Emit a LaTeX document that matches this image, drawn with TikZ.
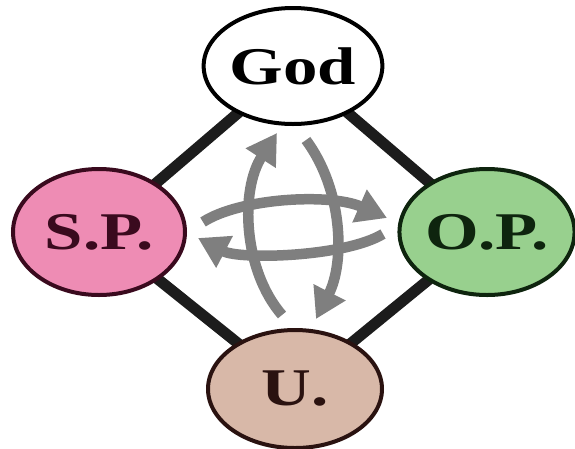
\documentclass[tikz,border=0pt]{standalone}
\usepackage{fontspec}
\setmainfont{Liberation Serif}
\usetikzlibrary{shapes.geometric,arrows.meta,backgrounds}
\definecolor{spfill}{HTML}{EE8CB4}
\definecolor{spline}{HTML}{3A0A1E}
\definecolor{opfill}{HTML}{98D08E}
\definecolor{opline}{HTML}{0E240E}
\definecolor{ufill}{HTML}{D8B8A8}
\definecolor{uline}{HTML}{2A1210}
\definecolor{arrowgray}{HTML}{7F7F7F}
\definecolor{linkcol}{HTML}{1C1C1C}
\tikzset{
  bubble/.style={ellipse, draw, line width=4pt, inner sep=0pt,
    font=\bfseries\fontsize{53pt}{57pt}\selectfont},
  link/.style={draw=linkcol, line width=11pt},
  flow/.style={draw=arrowgray, line width=10.5pt,
    -{Triangle[length=30pt,width=34pt]}}
}
\newcommand{\wide}[1]{\scalebox{1.3}[1]{#1}}
\begin{document}
\begin{tikzpicture}[x=1pt,y=-1pt]
\useasboundingbox (0,0) rectangle (575,448);
\node[bubble, fill=white, draw=black, minimum width=172pt, minimum height=116pt,
  font=\bfseries\fontsize{53pt}{57pt}\selectfont] (god) at (293,66) {\wide{God}};
\node[bubble, fill=spfill, draw=spline, text=spline, minimum width=172pt, minimum height=126pt] (sp) at (99,232) {\wide{S.P.}};
\node[bubble, fill=opfill, draw=opline, text=opline, minimum width=170pt, minimum height=126pt] (op) at (487,232) {\wide{O.P.}};
\node[bubble, fill=ufill, draw=uline, text=uline, minimum width=174pt, minimum height=118pt] (u) at (295,389) {\wide{U.}};
\begin{scope}[on background layer]
  \draw[link] (god.center) -- (sp.center);
  \draw[link] (god.center) -- (op.center);
  \draw[link] (u.center) -- (sp.center);
  \draw[link] (u.center) -- (op.center);
\end{scope}
\coordinate (upS) at (282,315);
\coordinate (upE) at (277,133);
\coordinate (dnS) at (306,140);
\coordinate (dnE) at (316,319);
\coordinate (rtS) at (203,222);
\coordinate (rtE) at (387,218);
\coordinate (ltS) at (383,234);
\coordinate (ltE) at (198,238);
\draw[flow] (upS) .. controls (243,270) and (240,190) .. (upE);
\draw[flow] (dnS) .. controls (343,190) and (345,262) .. (dnE);
\draw[flow] (rtS) .. controls (240,198) and (330,193) .. (rtE);
\draw[flow] (ltS) .. controls (345,257) and (240,260) .. (ltE);
\end{tikzpicture}
\end{document}
